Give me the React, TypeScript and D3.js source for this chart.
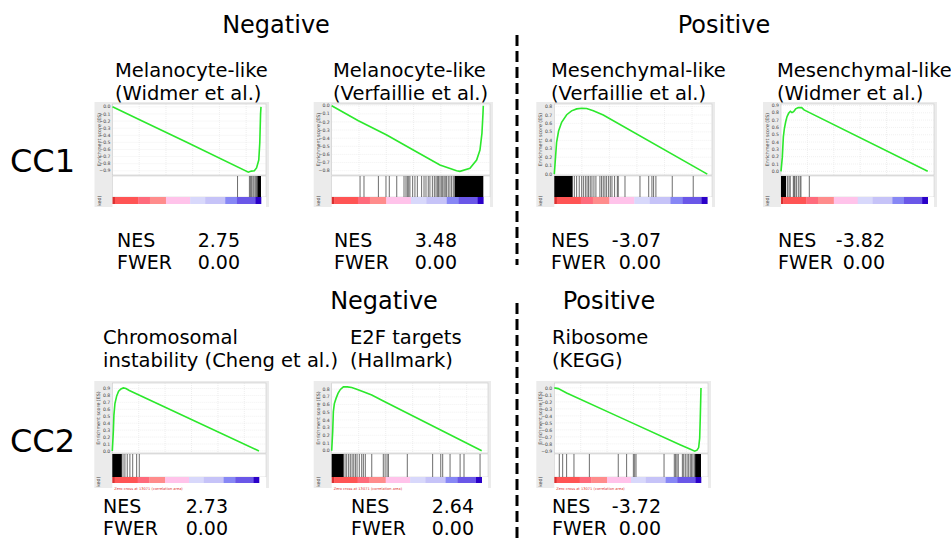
import * as d3 from "d3";

const W = 951;
const H = 538;

// ---- data ----
// ES curves: [rank fraction, enrichment score]
const esMelWidmer: [number, number][] = [
  [0, 0], [0.2, -0.2], [0.5, -0.5], [0.915, -0.92], [0.935, -0.905], [0.955, -0.9],
  [0.97, -0.86], [0.985, -0.75], [0.992, -0.5], [0.997, -0.1], [1.0, 0.0],
];
const esMelVerf: [number, number][] = [
  [0, 0], [0.176, -0.185], [0.363, -0.361], [0.538, -0.546], [0.714, -0.73], [0.824, -0.8],
  [0.846, -0.808], [0.912, -0.771], [0.956, -0.669], [0.978, -0.546], [0.991, -0.34],
  [0.998, -0.094], [1.0, 0],
];
const esMesVerf: [number, number][] = [
  [0, 0], [0.0065, 0.162], [0.015, 0.375], [0.028, 0.51], [0.048, 0.614], [0.081, 0.703],
  [0.113, 0.749], [0.146, 0.772], [0.179, 0.78], [0.211, 0.776], [0.255, 0.749], [0.32, 0.699],
  [1.0, 0],
];
const esMesWidmer: [number, number][] = [
  [0, 0], [0.009, 0.194], [0.016, 0.47], [0.023, 0.585], [0.032, 0.677], [0.041, 0.747],
  [0.052, 0.793], [0.064, 0.82], [0.075, 0.802], [0.086, 0.816], [0.1, 0.853], [0.118, 0.871],
  [0.141, 0.871], [0.157, 0.839], [1.0, 0],
];
const esCin: [number, number][] = [
  [0, 0], [0.007, 0.278], [0.011, 0.517], [0.018, 0.684], [0.03, 0.794], [0.043, 0.861],
  [0.059, 0.895], [0.075, 0.909], [0.093, 0.9], [0.116, 0.871], [1.0, 0],
];
const esE2f: [number, number][] = [
  [0, 0], [0.0067, 0.249], [0.011, 0.508], [0.018, 0.615], [0.029, 0.68], [0.042, 0.744],
  [0.058, 0.796], [0.078, 0.83], [0.104, 0.83], [0.133, 0.822], [0.167, 0.8], [0.211, 0.766],
  [0.267, 0.723], [0.344, 0.645], [1.0, 0],
];
const esRibo: [number, number][] = [
  [0, 0], [0.027, -0.01], [0.084, -0.072], [0.448, -0.421], [0.857, -0.813], [0.936, -0.885],
  [0.957, -0.904], [0.973, -0.89], [0.984, -0.852], [0.991, -0.718], [0.995, -0.431], [1.0, 0],
];

// gene set hits (rank fractions) and dense hit bands
const hitsMelWidmer = [0.842, 0.922, 0.93, 0.937, 0.946, 0.953, 0.962, 0.97];
const bandsMelWidmer: [number, number][] = [[0.975, 1.0]];
const hitsMelVerf = [
  0.187, 0.213, 0.308, 0.358, 0.38, 0.429, 0.477, 0.49, 0.499, 0.508, 0.516, 0.534, 0.549,
  0.565, 0.593, 0.609, 0.622, 0.637, 0.648, 0.664, 0.677, 0.688, 0.697, 0.705, 0.714, 0.723,
  0.732, 0.741, 0.749, 0.758, 0.769, 0.78, 0.791, 0.802,
];
const bandsMelVerf: [number, number][] = [[0.81, 1.0]];
const hitsMesVerf = [
  0.131, 0.146, 0.163, 0.179, 0.19, 0.203, 0.214, 0.224, 0.235, 0.246, 0.259, 0.272, 0.298,
  0.309, 0.32, 0.331, 0.342, 0.355, 0.366, 0.377, 0.394, 0.412, 0.418, 0.462, 0.56, 0.617,
  0.638, 0.649, 0.664, 0.771, 0.908,
];
const bandsMesVerf: [number, number][] = [[0, 0.12]];
const hitsMesWidmer = [0.045, 0.055, 0.063, 0.084, 0.09, 0.095, 0.105, 0.118, 0.13, 0.136, 0.193];
const bandsMesWidmer: [number, number][] = [[0, 0.035]];
const hitsCin = [0.073, 0.086, 0.102, 0.12, 0.139, 0.166, 0.184];
const bandsCin: [number, number][] = [[0, 0.065]];
const hitsE2f = [
  0.089, 0.1, 0.113, 0.124, 0.136, 0.147, 0.158, 0.169, 0.184, 0.2, 0.211, 0.224, 0.267,
  0.344, 0.356, 0.369, 0.378, 0.504, 0.673, 0.727, 0.74, 0.789, 0.856, 0.882, 0.989,
];
const bandsE2f: [number, number][] = [[0, 0.08]];
const hitsRibo = [
  0.034, 0.057, 0.084, 0.134, 0.239, 0.436, 0.493, 0.539, 0.548, 0.557, 0.748, 0.818, 0.827,
  0.836, 0.845, 0.873, 0.882, 0.893, 0.905, 0.916, 0.927, 0.936, 0.945, 0.955,
];
const bandsRibo: [number, number][] = [[0.96, 1.0]];

// y axis ticks and limits
const ticksNeg9 = [0, -0.1, -0.2, -0.3, -0.4, -0.5, -0.6, -0.7, -0.8, -0.9];
const ticksNeg8 = [0, -0.1, -0.2, -0.3, -0.4, -0.5, -0.6, -0.7, -0.8];
const ticksPos8 = [0, 0.1, 0.2, 0.3, 0.4, 0.5, 0.6, 0.7, 0.8];
const ticksPos9 = [0, 0.1, 0.2, 0.3, 0.4, 0.5, 0.6, 0.7, 0.8, 0.9];
const xGrid = [0.18, 0.36, 0.54, 0.72, 0.9];

// ranked list colour bar
const barStops = [0, 0.016, 0.173, 0.252, 0.36, 0.523, 0.624, 0.759, 0.838, 0.962];
const barColors = [
  "#d93030", "#ff5454", "#ff6b7c", "#ff8c8c", "#ffc3ea", "#d8d8fb", "#c6c3f8", "#8787f5",
  "#6a57e8", "#2a00c8",
];

const titles = [
  ["Melanocyte-like", "(Widmer et al.)"],
  ["Melanocyte-like", "(Verfaillie et al.)"],
  ["Mesenchymal-like", "(Verfaillie et al.)"],
  ["Mesenchymal-like", "(Widmer et al.)"],
  ["Chromosomal", "instability (Cheng et al.)"],
  ["E2F targets", "(Hallmark)"],
  ["Ribosome", "(KEGG)"],
];
const nes = ["2.75", "3.48", "-3.07", "-3.82", "2.73", "2.64", "-3.72"];
const fwer = ["0.00", "0.00", "0.00", "0.00", "0.00", "0.00", "0.00"];

const curves = [esMelWidmer, esMelVerf, esMesVerf, esMesWidmer, esCin, esE2f, esRibo];
const hits = [hitsMelWidmer, hitsMelVerf, hitsMesVerf, hitsMesWidmer, hitsCin, hitsE2f, hitsRibo];
const bands = [bandsMelWidmer, bandsMelVerf, bandsMesVerf, bandsMesWidmer, bandsCin, bandsE2f, bandsRibo];
const ticks = [ticksNeg9, ticksNeg8, ticksPos8, ticksPos9, ticksPos9, ticksPos8, ticksNeg9];
const domains: [number, number][] = [
  [-0.96, 0.04], [-0.853, 0.021], [-0.01, 0.83], [-0.05, 0.92],
  [-0.03, 0.98], [-0.03, 0.88], [-0.93, 0.07],
];

// ---- layout ----
const row1 = { top: 104, esBottom: 175, hitBottom: 197, barBottom: 204, bottom: 207, title: 77, nes: 247 };
const row2 = { top: 383, esBottom: 453, hitBottom: 477, barBottom: 483, bottom: 488, title: 344, nes: 513 };
const layout = [
  { row: row1, x0: 112.5, x1: 261, right: 266, tx: 115, nx: 117, vx: 240 },
  { row: row1, x0: 331.7, x1: 483.3, right: 490, tx: 333, nx: 334, vx: 457 },
  { row: row1, x0: 554.3, x1: 707.3, right: 712, tx: 551, nx: 551, vx: 661 },
  { row: row1, x0: 781, x1: 927.7, right: 934, tx: 777, nx: 778, vx: 885 },
  { row: row2, x0: 112.3, x1: 259, right: 266, tx: 103, nx: 103, vx: 228 },
  { row: row2, x0: 331.7, x1: 481.7, right: 488, tx: 350, nx: 351, vx: 474 },
  { row: row2, x0: 554.3, x1: 701, right: 708, tx: 552, nx: 552, vx: 661 },
];

const FONT = "DejaVu Sans, Verdana, sans-serif";

function GseaPanel({ i }: { i: number }) {
  const L = layout[i];
  const r = L.row;
  const x = d3.scaleLinear().domain([0, 1]).range([L.x0, L.x1]);
  const y = d3.scaleLinear().domain(domains[i]).range([r.esBottom, r.top]);
  const line = d3.line<[number, number]>().x((d) => x(d[0])).y((d) => y(d[1]));
  const stripX = L.x0 - 18;
  const negFmt = (v: number) => (v === 0 ? "0.0" : d3.format(".1f")(v).replace("-", "\u2212"));
  return (
    <g>
      <rect x={stripX} y={r.top - 2} width={L.right + 3 - stripX} height={r.bottom - r.top + 2} fill="#ebebeb" />
      <rect x={L.x0} y={r.top} width={L.right - L.x0} height={r.esBottom - r.top} fill="#fff" stroke="#c8c8c8" strokeWidth={0.6} />
      {xGrid.map((g) => (
        <line key={"vx" + g} x1={x(g)} x2={x(g)} y1={r.top} y2={r.esBottom} stroke="#dcdcdc" strokeWidth={0.5} strokeDasharray="1,1" />
      ))}
      {ticks[i].map((t) => (
        <g key={"t" + t}>
          <line x1={L.x0} x2={L.right} y1={y(t)} y2={y(t)} stroke="#e2e2e2" strokeWidth={0.5} strokeDasharray="1,1" />
          <text x={L.x0 - 2} y={y(t) + 1.6} fontSize={4.6} textAnchor="end" fill="#444" fontFamily={FONT}>
            {negFmt(t)}
          </text>
        </g>
      ))}
      <text
        transform={`translate(${stripX + 6},${(r.top + r.esBottom) / 2}) rotate(-90)`}
        fontSize={4.8}
        textAnchor="middle"
        fill="#444"
        fontFamily={FONT}
      >
        Enrichment score (ES)
      </text>
      <path d={line(curves[i]) ?? ""} fill="none" stroke="#2ce82c" strokeWidth={1.6} />
      {/* hit strip */}
      <rect x={L.x0} y={r.esBottom + 1} width={L.right - L.x0} height={r.hitBottom - r.esBottom - 1} fill="#fff" stroke="#c8c8c8" strokeWidth={0.5} />
      {hits[i].map((h, k) => (
        <line key={"h" + k} x1={x(h)} x2={x(h)} y1={r.esBottom + 1} y2={r.hitBottom} stroke="#333" strokeWidth={0.9} strokeOpacity={0.8} />
      ))}
      {bands[i].map((b, k) => (
        <rect key={"b" + k} x={x(b[0])} y={r.esBottom + 1} width={x(b[1]) - x(b[0])} height={r.hitBottom - r.esBottom - 1} fill="#000" />
      ))}
      {/* ranked list colour bar */}
      <rect x={L.x0} y={r.hitBottom} width={L.right - L.x0} height={r.bottom - r.hitBottom} fill="#fff" />
      {barStops.map((s, k) => {
        const e = k + 1 < barStops.length ? barStops[k + 1] : 1;
        return <rect key={"c" + k} x={x(s)} y={r.hitBottom} width={x(e) - x(s) + 0.3} height={r.barBottom - r.hitBottom} fill={barColors[k]} />;
      })}
      <text
        transform={`translate(${stripX + 6},${r.bottom - 1}) rotate(-90)`}
        fontSize={4.8}
        fill="#444"
        fontFamily={FONT}
      >
        ked)
      </text>
      {r === row2 && (
        <text x={L.x0 + 2} y={r.bottom + 1.5} fontSize={3.6} fill="#e03030" fontFamily={FONT}>
          Zero cross at 13071 (correlation area)
        </text>
      )}
      {/* labels */}
      <text x={L.tx} y={r.title} fontSize={19.5} fontFamily={FONT} fill="#000">{titles[i][0]}</text>
      <text x={L.tx} y={r.title + 23} fontSize={19.5} fontFamily={FONT} fill="#000">{titles[i][1]}</text>
      <text x={L.nx} y={r.nes} fontSize={19} fontFamily={FONT}>NES</text>
      <text x={L.nx} y={r.nes + 22} fontSize={19} fontFamily={FONT}>FWER</text>
      <text x={L.vx} y={r.nes} fontSize={19} textAnchor="end" fontFamily={FONT}>{nes[i]}</text>
      <text x={L.vx} y={r.nes + 22} fontSize={19} textAnchor="end" fontFamily={FONT}>{fwer[i]}</text>
    </g>
  );
}

export default function App() {
  return (
    <svg width={W} height={H} style={{ position: "absolute", left: 0, top: 0, background: "#fff" }}>
      <rect width={W} height={H} fill="#fff" />
      <text x={276} y={33} fontSize={24} textAnchor="middle" fontFamily={FONT}>Negative</text>
      <text x={724} y={33} fontSize={24} textAnchor="middle" fontFamily={FONT}>Positive</text>
      <text x={384} y={309} fontSize={24} textAnchor="middle" fontFamily={FONT}>Negative</text>
      <text x={609} y={309} fontSize={24} textAnchor="middle" fontFamily={FONT}>Positive</text>
      <text x={10} y={172} fontSize={32} fontFamily={FONT}>CC1</text>
      <text x={10} y={452} fontSize={32} fontFamily={FONT}>CC2</text>
      <line x1={517} x2={517} y1={35} y2={265} stroke="#000" strokeWidth={3} strokeDasharray="11,5" />
      <line x1={517} x2={517} y1={303} y2={538} stroke="#000" strokeWidth={3} strokeDasharray="11,5" />
      {layout.map((_, i) => (
        <GseaPanel key={i} i={i} />
      ))}
    </svg>
  );
}
